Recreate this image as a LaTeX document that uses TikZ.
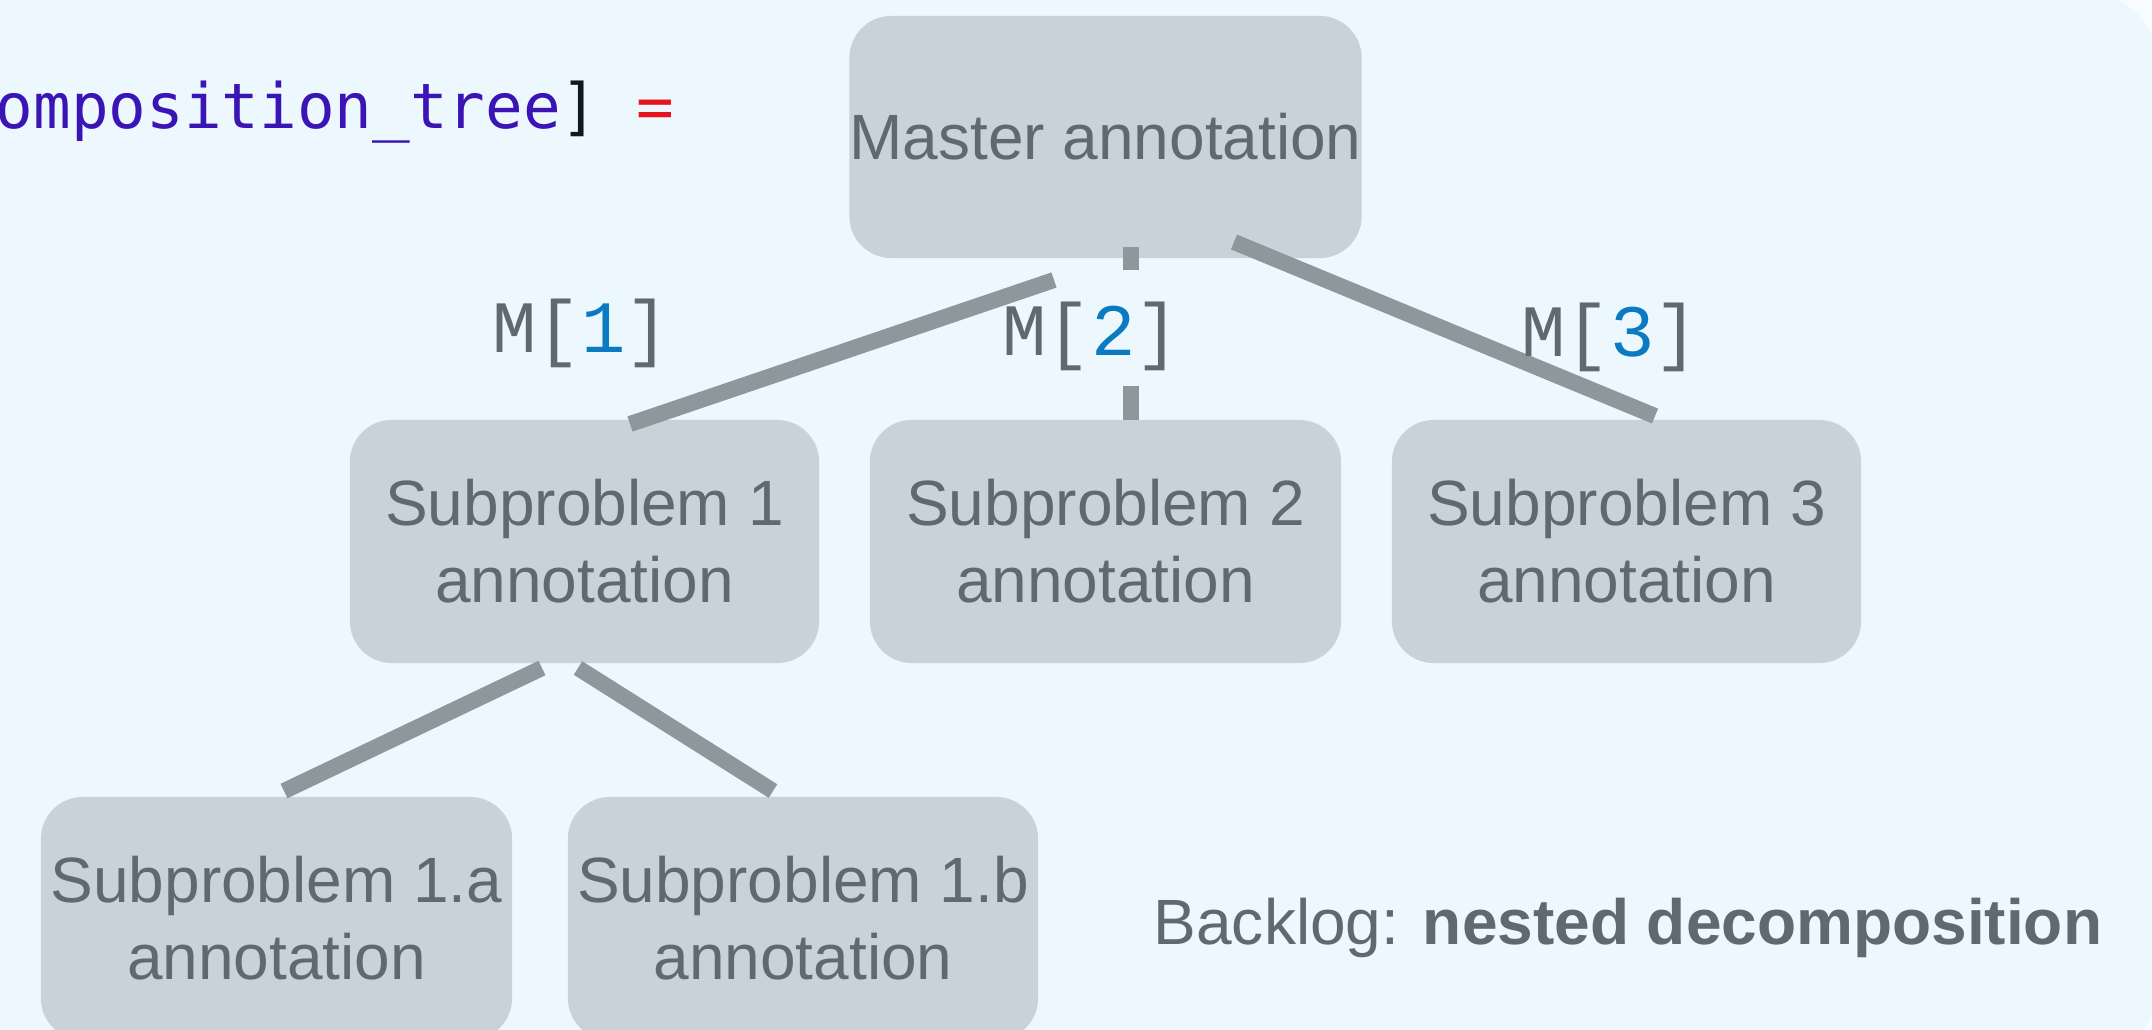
\documentclass[tikz,border=0pt]{standalone}
\usepackage{fontspec}
\setmainfont{Liberation Sans}
\newfontfamily\labfont{Liberation Mono}
\newfontfamily\codefont{DejaVu Sans Mono}

\definecolor{pagebg}{HTML}{F8FCFE}
\definecolor{panelbg}{HTML}{EDF8FE}
\definecolor{boxfill}{HTML}{C8D3D9}
\definecolor{boxtext}{HTML}{5F6A70}
\definecolor{edgegray}{HTML}{8E979C}
\definecolor{digitblue}{HTML}{0B7BC1}
\definecolor{codeblue}{HTML}{3A14B5}
\definecolor{codeblack}{HTML}{0E1820}
\definecolor{codered}{HTML}{E6141E}

\begin{document}
\begin{tikzpicture}[x=0.01cm, y=-0.01cm,
  annobox/.style={fill=boxfill, rounded corners=0.42cm, inner sep=0pt,
    minimum height=2.43cm, align=center, text=boxtext,
    font=\fontsize{18.2}{21.9}\selectfont},
  conn/.style={draw=edgegray, line width=0.16cm},
  idx/.style={inner sep=1pt, text=boxtext,
    font=\labfont\fontsize{21}{24}\selectfont},
]
\useasboundingbox (0,0) rectangle (2152,1029);
\clip (0,0) rectangle (2152,1029);

% page and rounded panel
\fill[pagebg] (0,0) rectangle (2152,1029);
\fill[panelbg, rounded corners=0.8cm] (-100,-10) rectangle (2160,1060);

% code fragment at the top left
\node[anchor=base west, inner sep=0pt, font=\codefont\fontsize{17.8}{20}\selectfont]
  (code) at (-5,128)
  {\textcolor{codeblue}{omposition\_tree}\textcolor{codeblack}{]} \textcolor{codered}{=}};

% annotation boxes
\node[annobox, minimum width=5.11cm, minimum height=2.42cm] (master) at (1105.5,137) {Master annotation};
\node[annobox, minimum width=4.69cm] (sub1) at (584.5,541.5) {Subproblem 1\\annotation};
\node[annobox, minimum width=4.71cm] (sub2) at (1105.5,541.5) {Subproblem 2\\annotation};
\node[annobox, minimum width=4.69cm] (sub3) at (1626.5,541.5) {Subproblem 3\\annotation};
\node[annobox, minimum width=4.71cm] (sub1a) at (276.5,918.5) {Subproblem 1.a\\annotation};
\node[annobox, minimum width=4.70cm] (sub1b) at (803,918.5) {Subproblem 1.b\\annotation};

% connector end points
\coordinate (e1top) at (1054,280);
\coordinate (e1bot) at (630,424);
\coordinate (e2top) at (1131,247);
\coordinate (e2gapa) at (1131,270);
\coordinate (e2gapb) at (1131,386);
\coordinate (e2bot) at (1131,420);
\coordinate (e3top) at (1234,242);
\coordinate (e3bot) at (1655,416);
\coordinate (e4top) at (542,668);
\coordinate (e4bot) at (284,791);
\coordinate (e5top) at (578,668);
\coordinate (e5bot) at (773,791);

% connectors (the middle one is broken around its label)
\draw[conn] (e1top) -- (e1bot);
\draw[conn] (e2top) -- (e2gapa);
\draw[conn] (e2gapb) -- (e2bot);
\draw[conn] (e3top) -- (e3bot);
\draw[conn] (e4top) -- (e4bot);
\draw[conn] (e5top) -- (e5bot);

% index labels
\node[idx] (m1) at (581,333) {M[\textcolor{digitblue}{1}]};
\node[idx] (m2) at (1091,336) {M[\textcolor{digitblue}{2}]};
\node[idx] (m3) at (1610,337) {M[\textcolor{digitblue}{3}]};

% caption
\node[anchor=base west, inner sep=0pt, text=boxtext, font=\fontsize{18.2}{21.9}\selectfont]
  (caption) at (1153,944) {Backlog: \textbf{nested decomposition}};
\end{tikzpicture}
\end{document}
